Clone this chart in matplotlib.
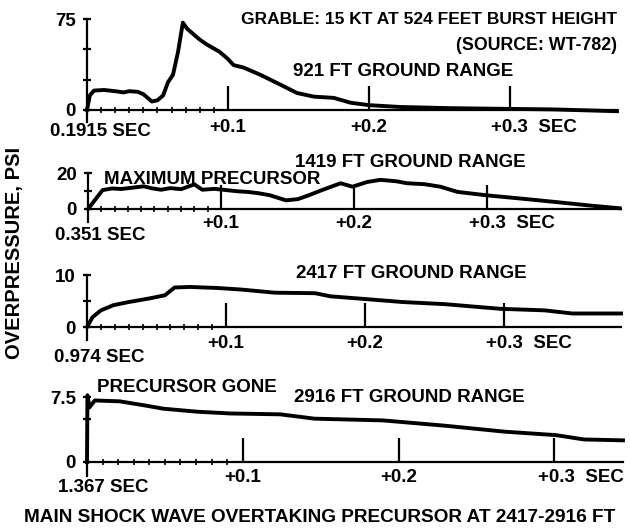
import numpy as np
import matplotlib.pyplot as plt

plt.rcParams['font.family'] = ['Liberation Sans', 'DejaVu Sans']
plt.rcParams['font.weight'] = 'bold'

# 921 ft ground range (time after arrival in s, overpressure in psi)
t921 = [0, 0.002, 0.005, 0.012, 0.02, 0.026, 0.03, 0.036, 0.040, 0.046, 0.050, 0.054,
        0.0575, 0.061, 0.0646, 0.068, 0.071, 0.075, 0.080, 0.085, 0.094, 0.100, 0.104,
        0.111, 0.117, 0.123, 0.130, 0.137, 0.149, 0.161, 0.175, 0.187, 0.200, 0.222,
        0.258, 0.293, 0.330, 0.376]
p921 = [0, 12, 16, 16.5, 15.5, 14.5, 15.5, 15, 13, 7, 8, 12,
        23, 29, 48, 72, 67, 63, 58, 54, 48, 42, 37,
        35, 32, 29, 25, 21, 14, 11, 10, 6, 4, 2.5,
        1.5, 1, 0.5, -1]

# 1419 ft ground range
t1419 = [0, 0.011, 0.018, 0.025, 0.033, 0.042, 0.048, 0.055, 0.062, 0.070, 0.080, 0.086,
         0.095, 0.104, 0.113, 0.120, 0.128, 0.137, 0.149, 0.158, 0.166, 0.176, 0.190,
         0.199, 0.210, 0.220, 0.232, 0.240, 0.253, 0.265, 0.278, 0.300, 0.327, 0.353,
         0.378, 0.400]
p1419 = [0, 10.5, 11.4, 11.1, 11.8, 12.6, 11.5, 10.7, 11.6, 11.0, 13.7, 10.7,
         11.2, 10.5, 9.8, 9.5, 8.8, 7.6, 4.8, 5.5, 7.6, 10.5, 14.3,
         12.4, 15.0, 16.2, 15.4, 14.3, 13.8, 12.4, 9.5, 7.6, 5.7, 3.8,
         1.9, 0.4]

# 2417 ft ground range
t2417 = [0, 0.004, 0.010, 0.019, 0.030, 0.045, 0.056, 0.063, 0.074, 0.094, 0.111,
         0.135, 0.164, 0.175, 0.199, 0.227, 0.257, 0.297, 0.329, 0.349, 0.384]
p2417 = [0, 1.9, 3.2, 4.2, 4.8, 5.5, 6.1, 7.6, 7.7, 7.5, 7.2,
         6.6, 6.5, 5.9, 5.4, 4.8, 4.4, 3.5, 3.2, 2.6, 2.6]

# 2916 ft ground range
t2916 = [0, 0.0003, 0.0016, 0.005, 0.021, 0.038, 0.049, 0.071, 0.092, 0.124, 0.146,
         0.190, 0.229, 0.268, 0.301, 0.319, 0.344]
p2916 = [0, 7.7, 6.3, 7.1, 7.0, 6.5, 6.15, 5.8, 5.6, 5.5, 5.0,
         4.8, 4.2, 3.5, 3.1, 2.6, 2.5]

x_ticks = [0.1, 0.2, 0.3]
x_tick_labels = ['+0.1', '+0.2', '+0.3  SEC']

W, H = 630, 531
fig = plt.figure(figsize=(W / 100, H / 100), dpi=100)
fs = 13.5


def panel(t, p, start_label, yticks, ylabels, x0, x1, tend, y0, ytop, ybot,
          lab_dy, start_xy, last_dx):
    ymax = yticks[-1]
    ppu = (y0 - ytop) / ymax
    ax = fig.add_axes([x0 / W, 1 - ybot / H, (x1 - x0) / W, (ybot - ytop) / H])
    ax.set_xlim(0, tend)
    ax.set_ylim(-(ybot - y0) / ppu, ymax)
    ax.patch.set_alpha(0)
    for s in ['top', 'right']:
        ax.spines[s].set_visible(False)
    ax.spines['bottom'].set_position(('data', 0))
    ax.spines['bottom'].set_linewidth(1.6)
    ax.spines['left'].set_linewidth(1.6)
    ax.plot(t, p, color='black', lw=2.8, solid_joinstyle='round', clip_on=False)
    ax.set_xticks(x_ticks, [])
    ax.set_xticks(np.arange(0.01, 0.095, 0.01), minor=True)
    ax.tick_params(axis='x', which='major', direction='in', length=17, width=1.6)
    ax.tick_params(axis='x', which='minor', direction='inout', length=5, width=1.2)
    ax.set_yticks(yticks, ylabels)
    ax.tick_params(axis='y', direction='inout', length=6, width=1.6, pad=5,
                   labelsize=fs)
    for i, (xt, lab) in enumerate(zip(x_ticks, x_tick_labels)):
        if i == len(x_ticks) - 1:
            ax.annotate(lab, (xt, 0), xytext=(last_dx, -lab_dy), textcoords='offset pixels',
                        ha='left', va='center', fontsize=fs)
        else:
            ax.annotate(lab, (xt, 0), xytext=(0, -lab_dy), textcoords='offset pixels',
                        ha='center', va='center', fontsize=fs)
    fig.text(start_xy[0] / W, 1 - start_xy[1] / H, start_label, ha='left', va='center',
             fontsize=fs)
    return ax


panel(t921, p921, '0.1915 SEC', [0, 25, 50, 75], ['0', '', '', '75'],
      87, 617, 0.376, 110, 19, 122, 18, (50, 131), -19)
panel(t1419, p1419, '0.351 SEC', [0, 10, 20], ['0', '', '20'],
      88, 621, 0.401, 209, 173, 222, 15, (55, 236), -18)
panel(t2417, p2417, '0.974 SEC', [0, 5, 10], ['0', '', '10'],
      87, 621, 0.384, 327, 275, 340, 16, (54, 357), -18)
panel(t2916, p2916, '1.367 SEC', [0, 5, 7.5], ['0', '', '7.5'],
      87, 623, 0.344, 462, 397, 476, 16, (58, 488), -16)


def ftext(x, y, s, ha='left', size=fs):
    fig.text(x / W, 1 - y / H, s, ha=ha, va='center', fontsize=size)


ftext(617, 19, 'GRABLE: 15 KT AT 524 FEET BURST HEIGHT', ha='right', size=12.5)
ftext(617, 45, '(SOURCE: WT-782)', ha='right', size=12.8)
ftext(293, 72, '921 FT GROUND RANGE')
ftext(295, 162, '1419 FT GROUND RANGE')
ftext(104, 180, 'MAXIMUM PRECURSOR')
ftext(296, 273, '2417 FT GROUND RANGE')
ftext(97, 388, 'PRECURSOR GONE')
ftext(294, 397, '2916 FT GROUND RANGE')
ftext(320, 518, 'MAIN SHOCK WAVE OVERTAKING PRECURSOR AT 2417-2916 FT', ha='center', size=13.7)
fig.text(15 / W, 1 - 253 / H, 'OVERPRESSURE, PSI', rotation=90, ha='center', va='center',
         fontsize=14.5)

fig.savefig('out.png', dpi=100)
